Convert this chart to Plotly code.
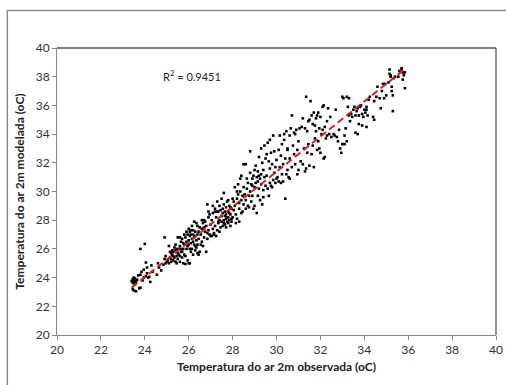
import plotly.graph_objects as go

obs_2340 = [23.45,23.5,23.5,23.55,23.6,23.5,23.45,23.55,23.6,23.4,23.5,23.65,23.45,23.55,23.45,23.5,23.6,23.75,23.8,23.7,23.8,23.8,23.85,23.95,23.95,23.9]
mod_2340 = [23.8,23.6,23.9,23.7,23.8,24.0,23.65,23.95,23.65,23.75,23.75,23.85,23.9,23.55,23.2,23.1,23.05,23.25,23.3,24.15,24.2,26.0,24.4,24.55,24.0,23.8]

obs_2400 = [24.0,24.05,24.1,24.05,24.15,24.2,24.25,24.1,24.3,24.35,24.55,24.6,24.65,24.75,24.85,24.9,24.95,24.9,24.95,25.0]
mod_2400 = [26.35,25.05,24.7,24.1,24.0,24.05,23.7,24.3,24.85,24.4,24.2,25.0,24.7,24.5,24.9,25.3,25.5,26.8,25.0,25.1]

obs_2500 = [25.05,25.1,25.1,25.15,25.2,25.2,25.25,25.3,25.3,25.35,25.4,25.4,25.45,25.45,25.5,25.5,25.35,25.25,25.15,25.4,25.5,25.45,25.3,25.2]
mod_2500 = [25.2,25.0,26.2,25.4,25.3,25.1,25.6,25.2,25.8,25.4,25.9,25.1,26.0,25.5,26.8,25.3,26.1,25.9,25.8,26.3,25.7,25.0,25.5,25.7]

obs_2550 = [25.55,25.6,25.6,25.65,25.7,25.7,25.75,25.8,25.8,25.85,25.9,25.9,25.95,25.95,26.0,26.0,25.85,26.05,25.6,25.7,25.75,25.55,25.65,25.8,25.9,25.95,26.0,25.85,25.75,25.6,25.65]
mod_2550 = [26.0,26.2,25.5,26.5,26.7,25.8,26.0,26.3,25.6,26.8,26.5,26.0,27.0,25.2,26.6,25.0,24.95,25.0,25.1,25.4,25.0,25.6,26.0,27.0,27.2,26.2,27.4,25.5,26.4,26.8,25.8]

obs_2600 = [26.05,26.1,26.1,26.15,26.15,26.2,26.2,26.25,26.25,26.3,26.3,26.35,26.35,26.4,26.4,26.45,26.5,26.5,26.05,26.1,26.2,26.3,26.45,26.0,26.1,26.2,26.3,26.4,26.15,26.35,26.45,26.25,26.05,26.4]
mod_2600 = [26.9,27.3,26.4,26.0,27.6,27.0,26.5,26.8,27.9,27.2,26.2,26.6,27.8,27.0,26.3,26.7,27.5,25.8,26.0,25.8,25.6,25.9,25.6,26.3,27.0,27.3,26.9,27.6,26.7,26.1,27.2,26.3,27.2,25.7]

obs_2650 = [26.55,26.6,26.6,26.65,26.7,26.7,26.75,26.8,26.8,26.85,26.85,26.9,26.9,26.95,27.0,27.0,26.55,26.65,26.75,26.9,26.6,26.95,26.7,26.85]
mod_2650 = [27.0,27.4,26.5,27.8,26.8,28.0,27.2,27.6,25.8,29.1,26.7,27.3,28.2,27.0,27.7,26.9,26.3,26.2,27.9,28.6,28.0,28.4,27.5,27.1]

obs_2700 = [27.05,27.1,27.1,27.15,27.2,27.2,27.25,27.3,27.3,27.35,27.35,27.4,27.4,27.45,27.45,27.5,27.5,27.05,27.15,27.25,27.4,27.2,27.3,27.1,27.5,27.35]
mod_2700 = [28.0,27.4,28.5,27.1,28.8,27.6,28.2,27.3,29.3,28.6,27.8,29.0,28.0,27.5,28.7,28.3,27.9,26.9,27.0,26.9,27.2,28.6,28.6,29.0,29.5,27.9]

obs_2750 = [27.55,27.6,27.6,27.65,27.65,27.7,27.7,27.75,27.75,27.8,27.8,27.85,27.85,27.9,27.9,27.95,28.0,28.0,27.55,27.6,27.7,27.8,27.9,27.95,27.65,27.75,27.85,27.6,27.55,27.95,27.7,27.8]
mod_2750 = [28.5,28.0,29.1,27.7,28.3,28.9,27.5,28.2,29.3,28.6,27.8,28.0,29.0,28.4,27.6,28.8,28.2,29.5,27.6,27.8,28.1,28.2,28.9,28.1,28.6,27.9,28.5,29.9,28.8,27.9,28.4,29.4]

obs_2800 = [28.05,28.1,28.1,28.15,28.2,28.2,28.25,28.3,28.3,28.35,28.4,28.4,28.45,28.5,28.5,28.15,28.3,28.05,28.45,28.5,28.35,28.25,28.4,28.2]
mod_2800 = [28.7,30.3,29.0,28.4,29.5,28.1,29.8,29.2,28.8,30.0,29.4,28.5,29.7,30.3,29.1,27.8,27.9,29.3,28.6,31.9,30.9,30.5,31.1,30.0]

obs_2850 = [28.55,28.6,28.6,28.65,28.7,28.7,28.75,28.8,28.8,28.85,28.85,28.9,28.9,28.95,29.0,29.0,28.6,28.75,28.95,28.65,28.8,29.0,28.9]
mod_2850 = [29.8,31.9,29.4,30.2,29.0,30.6,29.7,32.8,30.0,30.5,29.3,30.9,29.7,31.1,30.3,29.0,28.8,28.9,28.8,30.9,31.3,31.5,30.4]

obs_2900 = [29.05,29.1,29.1,29.15,29.15,29.2,29.2,29.25,29.25,29.3,29.3,29.35,29.35,29.4,29.4,29.45,29.45,29.5,29.5,29.05,29.3,29.15,29.4,29.2]
mod_2900 = [30.6,28.5,31.0,29.7,31.4,30.2,32.4,30.9,29.4,31.2,30.5,32.0,29.1,31.5,30.1,33.2,31.0,30.4,32.3,31.8,33.0,30.7,29.6,31.1]

obs_2950 = [29.55,29.6,29.6,29.65,29.7,29.7,29.75,29.75,29.8,29.85,29.85,29.9,29.9,29.95,30.0,30.0,29.65,29.8,29.55,29.95,29.7]
mod_2950 = [31.1,33.4,30.2,32.1,30.6,31.6,32.7,30.4,31.9,33.9,30.8,31.3,32.8,31.7,30.9,32.2,29.7,30.3,32.6,30.6,33.6]

obs_3000 = [30.05,30.1,30.1,30.15,30.2,30.2,30.25,30.3,30.3,30.35,30.4,30.4,30.45,30.45,30.5,30.5,30.35,30.15,30.25,30.5]
mod_3000 = [31.0,32.9,30.7,31.7,32.5,30.6,33.3,31.9,30.7,33.6,32.3,29.5,34.2,31.2,32.9,31.5,34.0,33.9,31.2,33.0]

obs_3050 = [30.55,30.6,30.6,30.65,30.7,30.7,30.75,30.8,30.85,30.85,30.9,30.95,31.0,31.0,30.6,30.8,30.95]
mod_3050 = [31.0,33.9,32.3,34.4,35.3,31.7,33.2,32.6,34.0,31.9,34.3,32.9,31.5,33.5,30.9,34.1,31.2]

obs_3100 = [31.05,31.1,31.15,31.2,31.25,31.3,31.3,31.35,31.4,31.4,31.45,31.5,31.5,31.2,31.35,31.45]
mod_3100 = [34.4,32.1,34.5,31.9,33.0,34.4,31.4,36.6,34.2,32.7,33.3,35.0,31.8,35.1,31.6,34.9]

obs_3150 = [31.55,31.6,31.6,31.65,31.7,31.7,31.75,31.8,31.8,31.85,31.9,31.9,31.95,32.0,32.0,31.65,31.75,31.85,31.95]
mod_3150 = [36.3,35.3,32.6,34.7,31.7,35.5,33.7,35.1,34.2,32.9,35.5,33.5,34.4,35.2,32.7,33.2,34.6,35.3,33.0]

obs_3200 = [32.05,32.1,32.15,32.15,32.2,32.2,32.25,32.3,32.35,32.4,32.45,32.5,32.1,32.3]
mod_3200 = [34.0,35.9,36.0,32.3,34.5,32.4,33.7,34.9,35.8,34.0,35.2,33.8,34.3,33.9]

obs_3250 = [32.6,32.7,32.75,32.8,32.85,32.9,32.95,33.0,33.0,32.65]
mod_3250 = [34.0,35.7,33.8,33.5,34.3,33.0,32.7,36.6,33.3,33.9]

obs_3300 = [33.05,33.1,33.15,33.2,33.2,33.25,33.3,33.35,33.4,33.5,33.45,33.1,33.3]
mod_3300 = [36.5,33.9,34.4,36.6,33.5,35.9,36.5,34.9,35.4,35.7,35.2,33.3,35.3]

obs_3350 = [33.55,33.6,33.6,33.65,33.7,33.7,33.75,33.8,33.85,33.9,33.95,34.0,33.75,33.9]
mod_3350 = [35.9,35.3,34.1,35.6,35.8,34.0,34.7,35.9,36.0,34.6,35.2,35.7,35.3,35.4]

obs_3400 = [34.05,34.1,34.1,34.15,34.2,34.25,34.4,34.45,34.45,34.1]
mod_3400 = [35.5,35.9,34.5,35.3,36.4,36.6,35.2,35.0,36.3,35.7]

obs_3450 = [34.55,34.6,34.7,34.75,34.85,34.9,34.95,35.0,34.8]
mod_3450 = [36.6,37.3,36.5,35.8,37.5,36.5,37.5,36.7,37.0]

obs_3500 = [35.1,35.15,35.15,35.2,35.25,35.3,35.35,35.3,35.25,35.2,35.4]
mod_3500 = [37.6,38.2,38.5,38.0,37.0,36.7,37.9,35.6,37.3,38.1,38.0]

obs_3550 = [35.55,35.6,35.7,35.75,35.8,35.85,35.75,35.85,35.7]
mod_3550 = [38.0,38.4,38.5,38.3,38.1,37.2,37.8,38.3,38.6]

# trend line end points
trend_x = [23.4, 35.9]
trend_y = [23.3, 38.6]
r2_label = "R<sup>2</sup> = 0.9451"

x_ticks = [20, 22, 24, 26, 28, 30, 32, 34, 36, 38, 40]
y_ticks = [20, 22, 24, 26, 28, 30, 32, 34, 36, 38, 40]

obs = (obs_2340 + obs_2400 + obs_2500 + obs_2550 + obs_2600 + obs_2650 + obs_2700 + obs_2750
       + obs_2800 + obs_2850 + obs_2900 + obs_2950 + obs_3000 + obs_3050 + obs_3100 + obs_3150
       + obs_3200 + obs_3250 + obs_3300 + obs_3350 + obs_3400 + obs_3450 + obs_3500 + obs_3550)
mod = (mod_2340 + mod_2400 + mod_2500 + mod_2550 + mod_2600 + mod_2650 + mod_2700 + mod_2750
       + mod_2800 + mod_2850 + mod_2900 + mod_2950 + mod_3000 + mod_3050 + mod_3100 + mod_3150
       + mod_3200 + mod_3250 + mod_3300 + mod_3350 + mod_3400 + mod_3450 + mod_3500 + mod_3550)

FONT = "Lato, 'Open Sans', sans-serif"
AX = "#868686"

fig = go.Figure()
fig.add_trace(go.Scatter(
    x=obs, y=mod, mode="markers",
    marker=dict(symbol="square", size=2.6, color="black", line=dict(width=0)),
    showlegend=False, hoverinfo="x+y"))
fig.add_trace(go.Scatter(
    x=trend_x, y=trend_y, mode="lines",
    line=dict(color="#e31a1c", width=2, dash="7px,4px"),
    showlegend=False, hoverinfo="skip"))

axis_common = dict(
    showgrid=False, zeroline=False, showline=True, linecolor=AX, linewidth=1,
    mirror=False, ticks="outside", ticklen=4, tickcolor=AX, tickwidth=1,
    tickfont=dict(family=FONT, size=12, color="#333333"), automargin=False,
)
fig.update_xaxes(range=[20, 40], tickvals=x_ticks, ticktext=[str(v) for v in x_ticks],
                 title=dict(text="<b>Temperatura do ar 2m observada (oC)</b>",
                            font=dict(family=FONT, size=12, color="#222222"), standoff=6),
                 **axis_common)
fig.update_yaxes(range=[20, 40], tickvals=y_ticks, ticktext=[str(v) for v in y_ticks],
                 title=dict(text="<b>Temperatura do ar 2m modelada (oC)</b>",
                            font=dict(family=FONT, size=12, color="#222222"), standoff=8),
                 **axis_common)

fig.add_annotation(x=24.75, y=38.1, xref="x", yref="y", text=r2_label, showarrow=False,
                   xanchor="left", yanchor="middle",
                   font=dict(family=FONT, size=11, color="#222222"))

# plot-area top (gray) and right (dark) borders
fig.add_shape(type="line", xref="paper", yref="paper", x0=0, x1=1, y0=1, y1=1,
              line=dict(color="#7f7f7f", width=2))
fig.add_shape(type="line", xref="paper", yref="paper", x0=1, x1=1, y0=0, y1=1,
              line=dict(color="#222222", width=1))

# outer chart-area frame (left and top edges visible, others run off the picture)
fig.add_shape(type="rect", xref="paper", yref="paper",
              x0=-0.1132, x1=1.04, y0=-0.25, y1=1.1304,
              line=dict(color="#8c8c8c", width=1.5), layer="below")

fig.update_layout(
    width=506, height=385,
    margin=dict(l=57, r=10, t=48, b=50),
    paper_bgcolor="white", plot_bgcolor="white",
    font=dict(family=FONT),
)

fig.write_html("out.html", config={"displayModeBar": False},
               post_script="document.body.style.margin='0';")
